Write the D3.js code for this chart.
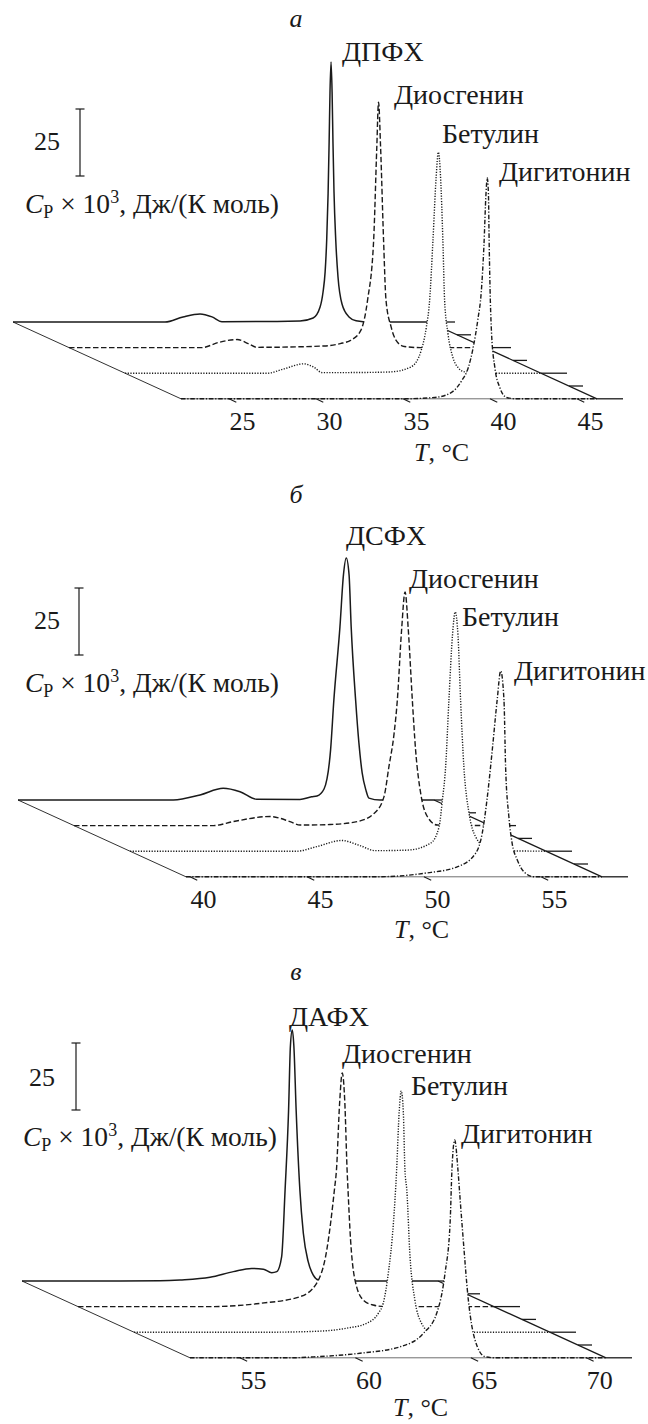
<!DOCTYPE html>
<html>
<head>
<meta charset="utf-8">
<script src="https://cdn.jsdelivr.net/npm/d3@7"></script>
<style>
body { margin: 0; background: #fff; }
</style>
</head>
<body>
<svg width="648" height="1424"></svg>
<script>
var panelLetters = ["а", "б", "в"];
var lipidNames = ["ДПФХ", "ДСФХ", "ДАФХ"];
var additiveNames = ["Диосгенин", "Бетулин", "Дигитонин"];
var cpBarValue = 25;

// temperature range of each panel (front axis) and its tick labels
var tRangeA = [22.24, 46.15];
var tRangeB = [39.83, 57.61];
var tRangeC = [52.84, 70.85];
var ticksA = [25, 30, 35, 40, 45];
var ticksB = [40, 45, 50, 55];
var ticksC = [55, 60, 65, 70];

// [T, Cp]
var dppc = [[22.24,0],[30.98,0],[32.01,1.9],[32.99,3.0],[33.68,1.9],[34.25,0.1],[38.74,0.4],[39.49,1.5],[39.89,5.6],[40.06,11.2],[40.18,18.7],[40.27,30.6],[40.35,47.8],[40.41,67.2],[40.46,85.8],[40.52,97],[40.58,85.8],[40.63,67.2],[40.69,48.5],[40.79,30.6],[40.92,16.8],[41.15,6.7],[41.55,1.9],[41.96,0.5],[42.76,0],[46.15,0]];
var dppcDios = [[22.24,0],[29.88,0],[30.82,1.9],[31.90,3.0],[32.54,1.5],[33.04,0.1],[36.91,0.6],[37.83,1.5],[38.45,2.8],[39.02,6.5],[39.40,17.7],[39.75,40.1],[39.93,74.6],[40.03,91.6],[40.15,74.6],[40.32,40.1],[40.46,17.7],[40.75,7.8],[41.03,2.8],[41.51,0.4],[42.43,0],[46.15,0]];
var dppcBet = [[22.24,0],[30.42,0],[31.37,1.6],[32.52,3.5],[33.10,2.2],[33.58,0.2],[36.35,0.3],[37.54,0.5],[38.69,2.4],[39.27,8.6],[39.56,17.2],[39.75,27.2],[39.94,49.6],[40.12,72.8],[40.25,82.5],[40.38,72.8],[40.51,49.6],[40.61,27.2],[40.80,14.9],[41.08,6.0],[41.41,1.9],[41.76,0.5],[42.68,0],[46.15,0]];
var dppcDig = [[22.24,0],[34.92,0],[36.83,0.5],[37.79,2.4],[38.37,6.7],[38.75,11.6],[39.03,19.0],[39.30,29.5],[39.50,40],[39.65,57],[39.77,76.5],[39.84,82.5],[39.91,76.5],[39.95,59],[40.02,36.6],[40.09,24.3],[40.28,11.6],[40.57,4.1],[40.95,0.5],[41.49,0],[46.15,0]];

var dspc = [[39.83,0],[46.47,0],[47.61,1.9],[48.60,4.4],[49.32,3.1],[50.03,0.3],[51.88,0.2],[52.38,1.2],[52.61,1.5],[52.91,4.1],[53.19,18.7],[53.33,37.3],[53.59,64.6],[53.74,84],[53.86,90.3],[53.98,84],[54.07,64.6],[54.26,37.3],[54.40,21.3],[54.54,10.1],[54.70,3.7],[54.83,0.7],[55.30,0],[57.61,0]];
var dspcDios = [[39.83,0],[45.78,0],[46.64,1.5],[48.21,3.4],[49.06,1.5],[49.49,0.2],[50.77,0.4],[51.94,1.5],[52.65,4.5],[53.08,10.8],[53.29,22],[53.51,34.3],[53.65,46.9],[53.83,72.8],[53.98,87.2],[54.12,72.8],[54.29,46.9],[54.43,28.2],[54.65,11.9],[54.93,3.4],[55.36,0.2],[57.61,0]];
var dspcBet = [[39.83,0],[46.95,0],[47.81,1.7],[48.87,4.0],[49.66,2.1],[50.30,0.2],[51.68,0.4],[52.68,3.0],[53.04,9.1],[53.18,19],[53.32,31.5],[53.46,56.3],[53.61,80.2],[53.73,89.3],[53.85,80.2],[53.96,56.3],[54.10,31.5],[54.32,14.2],[54.60,5.4],[55.10,1.1],[55.67,0.2],[57.61,0]];
var dspcDig = [[39.83,0],[47.99,0],[50.00,1.3],[51.42,3.7],[52.21,8.8],[52.49,16.2],[52.71,29.9],[52.92,47.3],[53.13,66],[53.28,76.8],[53.42,66],[53.49,41],[53.63,22.4],[53.77,12.5],[53.99,6.3],[54.27,1.9],[54.70,0],[57.61,0]];

var dapc = [[52.84,0],[57.08,0],[58.81,0.1],[59.68,0.4],[60.98,1.4],[61.99,3.5],[62.78,4.7],[63.29,4.4],[63.65,3.1],[63.87,3.5],[64.08,9.0],[64.23,34],[64.38,63.4],[64.46,87.7],[64.54,93.7],[64.61,87.7],[64.71,63.4],[64.87,34],[65.02,17.8],[65.23,7.2],[65.45,2.2],[65.67,0.4],[66.17,0],[70.85,0]];
var dapcDios = [[52.84,0],[58.55,0],[60.72,1.2],[62.45,3.7],[63.17,8.7],[63.61,21.1],[63.94,43.5],[64.03,51],[64.17,76.5],[64.28,87.2],[64.39,76.5],[64.49,51],[64.53,43.5],[64.64,24.9],[64.90,7.5],[65.22,2.2],[65.62,0.6],[66.13,0],[70.85,0]];
var dapcBet = [[52.84,0],[58.73,0],[60.89,0.4],[62.05,1.5],[62.91,3.3],[63.42,7.1],[63.63,10.8],[63.85,22],[64.07,40.6],[64.21,60.5],[64.32,82.1],[64.41,90],[64.50,82.1],[64.57,60.5],[64.65,53.1],[64.79,28.2],[65.00,12],[65.29,3.3],[65.65,0.2],[66.09,0],[70.85,0]];
var dapcDig = [[52.84,0],[57.17,0],[58.32,0.4],[60.20,1.7],[61.93,4.1],[62.94,9.1],[63.52,16.6],[63.88,31.5],[64.10,50.2],[64.18,70.1],[64.30,81.3],[64.44,70.1],[64.53,59.7],[64.67,44],[64.89,21.6],[65.18,6.6],[65.61,0.4],[66.04,0],[70.85,0]];

// layout
var plotWidth = 416, depthDx = 56, depthDy = 25.6;
var lineDash = [null, "5.5,2.5", "1.2,1.5", "4.5,1.8,1.2,1.8"];
var ink = "#1a1a1a";
var fontFamily = "'Liberation Serif', 'Times New Roman', Times, serif";
var nameSize = "28px", numSize = "26px", cpSize = "27.5px", smallSize = "18px";

var panels = [
	{letter: panelLetters[0], lipid: lipidNames[0], range: tRangeA, ticks: ticksA, curves: [dppc, dppcDios, dppcBet, dppcDig],
	 x0: 13, y0: 322, letterPos: [296, 27], barX: 80, barBottom: 176, barLabelY: 150, barLabelX: 60, cpPos: [25, 213],
	 namePos: [[342, 61], [394, 104], [442, 143], [499, 181]], titlePos: [414, 460.5]},
	{letter: panelLetters[1], lipid: lipidNames[1], range: tRangeB, ticks: ticksB, curves: [dspc, dspcDios, dspcBet, dspcDig],
	 x0: 18, y0: 800, letterPos: [296, 503], barX: 79, barBottom: 655, barLabelY: 629, barLabelX: 60, cpPos: [25, 692],
	 namePos: [[346, 545], [409, 588], [462, 626], [514, 680]], titlePos: [394, 937.5]},
	{letter: panelLetters[2], lipid: lipidNames[2], range: tRangeC, ticks: ticksC, curves: [dapc, dapcDios, dapcBet, dapcDig],
	 x0: 22, y0: 1281, letterPos: [296, 980], barX: 76, barBottom: 1110, barLabelY: 1086, barLabelX: 55, cpPos: [23, 1146],
	 namePos: [[289, 1026], [342, 1063], [411, 1095], [461, 1143]], titlePos: [393, 1416]}
];

var svg = d3.select("svg");
var cpScale = d3.scaleLinear().domain([0, cpBarValue]).range([0, 67]);

panels.forEach(function(p){ drawPanel(p); });

function addText(g, x, y, size){
	return g.append("text")
		.attr("x", x).attr("y", y)
		.attr("fill", ink)
		.attr("font-family", fontFamily)
		.attr("font-size", size);
}

function drawPanel(p){
	var g = svg.append("g");
	var tScale = d3.scaleLinear().domain(p.range).range([0, plotWidth]);
	var nSeries = p.curves.length;

	function px(s, t){ return p.x0 + s * depthDx + tScale(t); }
	function baseY(s){ return p.y0 + s * depthDy; }
	function py(s, cp){ return baseY(s) - cpScale(cp); }

	var last = nSeries - 1;
	var xEnd = p.x0 + plotWidth;

	// left depth axis
	g.append("line")
		.attr("x1", p.x0).attr("y1", p.y0)
		.attr("x2", p.x0 + last * depthDx).attr("y2", baseY(last))
		.attr("stroke", ink).attr("stroke-width", 0.9);

	// right depth axis with ticks
	g.append("line")
		.attr("x1", xEnd).attr("y1", p.y0)
		.attr("x2", xEnd + last * depthDx).attr("y2", baseY(last))
		.attr("stroke", ink).attr("stroke-width", 1.3);
	for (var k = 0; k <= last * 2; k++){
		var d = k / 2;
		var major = (k % 2 == 0);
		g.append("line")
			.attr("x1", xEnd + d * depthDx).attr("y1", p.y0 + d * depthDy)
			.attr("x2", xEnd + d * depthDx + (major ? 26 : 14)).attr("y2", p.y0 + d * depthDy)
			.attr("stroke", ink).attr("stroke-width", 1.3);
	}

	// curves, back to front, white under each one hides what is behind
	for (var s = 0; s < nSeries; s++){
		(function(s){
			var area = d3.area()
				.x(function(d){ return px(s, d[0]); })
				.y0(baseY(s))
				.y1(function(d){ return py(s, d[1]); })
				.curve(d3.curveMonotoneX);
			var line = d3.line()
				.x(function(d){ return px(s, d[0]); })
				.y(function(d){ return py(s, d[1]); })
				.curve(d3.curveMonotoneX);
			g.append("path").datum(p.curves[s])
				.attr("d", area)
				.attr("fill", "#fff");
			g.append("path").datum(p.curves[s])
				.attr("d", line)
				.attr("fill", "none")
				.attr("stroke", ink)
				.attr("stroke-width", s == 0 ? 1.5 : 1.4)
				.attr("stroke-dasharray", lineDash[s]);
		})(s);
	}

	// front temperature axis
	var fx = p.x0 + last * depthDx, fy = baseY(last);
	g.append("line")
		.attr("x1", fx).attr("y1", fy)
		.attr("x2", fx + plotWidth).attr("y2", fy)
		.attr("stroke", ink).attr("stroke-width", 0.8).attr("stroke-opacity", 0.8);
	var ux = depthDx / Math.hypot(depthDx, depthDy), uy = depthDy / Math.hypot(depthDx, depthDy);
	p.ticks.forEach(function(t){
		var tx = fx + tScale(t);
		g.append("line")
			.attr("x1", tx).attr("y1", fy)
			.attr("x2", tx + ux * 8).attr("y2", fy + uy * 8)
			.attr("stroke", ink).attr("stroke-width", 1.1);
		addText(g, tx + 13.5, fy + 31.5, numSize)
			.attr("text-anchor", "middle")
			.text(t);
	});

	var title = addText(g, p.titlePos[0], p.titlePos[1], numSize);
	title.append("tspan").attr("font-style", "italic").text("T");
	title.append("tspan").text(", °C");

	// peak names
	var names = [p.lipid].concat(additiveNames);
	names.forEach(function(n, i){
		addText(g, p.namePos[i][0], p.namePos[i][1], nameSize).text(n);
	});

	// panel letter
	addText(g, p.letterPos[0], p.letterPos[1], numSize)
		.attr("text-anchor", "middle")
		.attr("font-style", "italic")
		.text(p.letter);

	// Cp scale bar
	var barTop = p.barBottom - cpScale(cpBarValue);
	g.append("line")
		.attr("x1", p.barX).attr("y1", barTop).attr("x2", p.barX).attr("y2", p.barBottom)
		.attr("stroke", ink).attr("stroke-width", 1.2);
	[barTop, p.barBottom].forEach(function(y){
		g.append("line")
			.attr("x1", p.barX - 4.5).attr("y1", y).attr("x2", p.barX + 4.5).attr("y2", y)
			.attr("stroke", ink).attr("stroke-width", 1.2);
	});
	addText(g, p.barLabelX, p.barLabelY, numSize)
		.attr("text-anchor", "end")
		.text(cpBarValue);

	var cp = addText(g, p.cpPos[0], p.cpPos[1], cpSize);
	cp.append("tspan").attr("font-style", "italic").text("C");
	cp.append("tspan").attr("dy", 5).attr("font-size", smallSize).text("P");
	cp.append("tspan").attr("dy", -5).text(" × 10");
	cp.append("tspan").attr("dy", -10).attr("font-size", smallSize).text("3");
	cp.append("tspan").attr("dy", 10).text(", Дж/(К моль)");
}
</script>
</body>
</html>
